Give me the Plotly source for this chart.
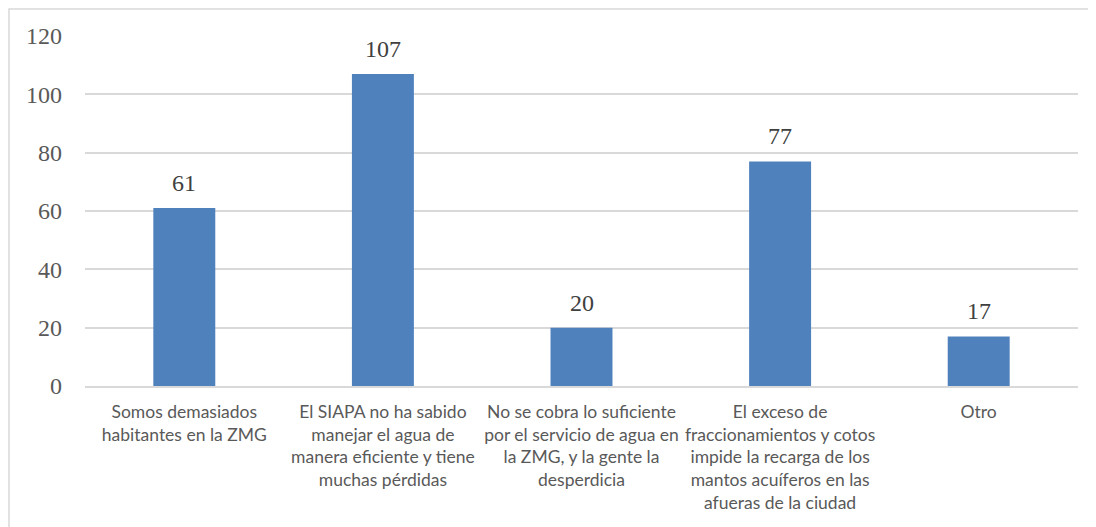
import plotly.graph_objects as go

categories = [
    "Somos demasiados<br>habitantes en la ZMG",
    "El SIAPA no ha sabido<br>manejar el agua de<br>manera eficiente y tiene<br>muchas pérdidas",
    "No se cobra lo suficiente<br>por el servicio de agua en<br>la ZMG, y la gente la<br>desperdicia",
    "El exceso de<br>fraccionamientos y cotos<br>impide la recarga de los<br>mantos acuíferos en las<br>afueras de la ciudad",
    "Otro",
]
values = [61, 107, 20, 77, 17]
y_ticks = [0, 20, 40, 60, 80, 100, 120]

# page has an 8px body margin, so the figure is sized to fill the rest
W, H = 1088, 519
L, R, T, B = 77, 18, 28, 141
pw, ph = W - L - R, H - T - B

fig = go.Figure()
fig.add_trace(go.Bar(
    x=categories, y=values,
    marker=dict(color="#4F81BD", line=dict(width=0)),
    hoverinfo="x+y",
))
for c, v in zip(categories, values):
    fig.add_annotation(
        x=c, y=v, text=str(v), showarrow=False,
        yanchor="bottom", yshift=10,
        font=dict(family="Liberation Serif, DejaVu Serif, serif", size=24, color="#404040"),
    )

fig.add_shape(
    type="rect", xref="paper", yref="paper",
    x0=(1 - L) / pw, x1=(W + 10 - L) / pw,
    y0=-(H + 10 - (T + ph)) / ph, y1=1 + (T - 1) / ph,
    line=dict(color="#d9d9d9", width=1.5), fillcolor="rgba(0,0,0,0)", layer="below",
)

fig.update_layout(
    width=W, height=H,
    margin=dict(l=L, r=R, t=T, b=B, autoexpand=False),
    paper_bgcolor="white", plot_bgcolor="white",
    bargap=0.688,
    showlegend=False,
    xaxis=dict(
        showgrid=False, showline=True, linecolor="#d9d9d9", linewidth=1.5,
        ticks="", ticklabelstandoff=9,
        tickfont=dict(family="Lato, Liberation Sans, sans-serif", size=17.5, color="#595959"),
        tickangle=0,
    ),
    yaxis=dict(
        range=[0, 120], tickvals=y_ticks,
        showgrid=True, gridcolor="#d9d9d9", gridwidth=1.5,
        zeroline=False, showline=False, ticks="",
        ticklabelstandoff=22,
        tickfont=dict(family="Liberation Serif, DejaVu Serif, serif", size=24, color="#595959"),
    ),
)

fig.write_html("out.html")
